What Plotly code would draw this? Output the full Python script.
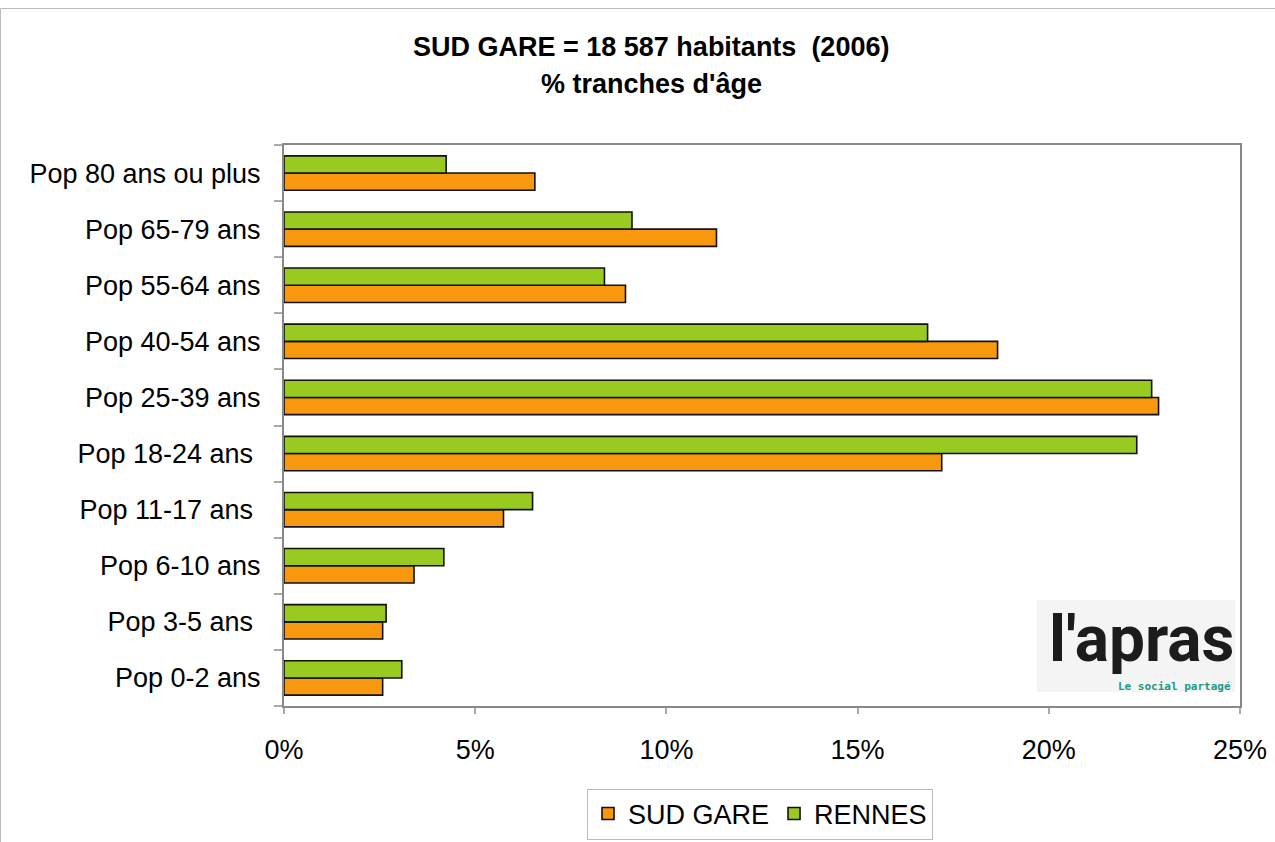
import plotly.graph_objects as go

categories = ["Pop 0-2 ans", "Pop 3-5 ans ", "Pop 6-10 ans", "Pop 11-17 ans ", "Pop 18-24 ans ",
              "Pop 25-39 ans", "Pop 40-54 ans", "Pop 55-64 ans", "Pop 65-79 ans", "Pop 80 ans ou plus"]
sud_gare = [2.58, 2.58, 3.40, 5.74, 17.20, 22.87, 18.66, 8.93, 11.31, 6.56]
rennes = [3.08, 2.67, 4.18, 6.50, 22.30, 22.69, 16.83, 8.38, 9.10, 4.24]
x_ticks = [0, 5, 10, 15, 20, 25]
x_tick_labels = ["0%", "5%", "10%", "15%", "20%", "25%"]

ORANGE = "#F7980E"
GREEN = "#99CA1F"
FONT = "Liberation Sans, Arial, sans-serif"
FS = 27

fig = go.Figure()
fig.add_trace(go.Bar(y=categories, x=sud_gare, orientation="h", name="SUD GARE",
                     marker=dict(color=ORANGE, line=dict(color="#111111", width=1.6))))
fig.add_trace(go.Bar(y=categories, x=rennes, orientation="h", name="RENNES",
                     marker=dict(color=GREEN, line=dict(color="#111111", width=1.6))))

L, R, T, B = 284, 35, 145, 136
W, H = 1275, 842
pw, ph = W - L - R, H - T - B


def px(x):
    return (x - L) / pw


def py(y):
    return (H - B - y) / ph


fig.update_layout(
    width=W, height=H,
    margin=dict(l=L, r=R, t=T, b=B, pad=0, autoexpand=False),
    paper_bgcolor="white", plot_bgcolor="white",
    barmode="group", bargap=0.386, bargroupgap=0,
    font=dict(family=FONT, size=FS, color="black"),
    showlegend=True,
    legend=dict(orientation="h", x=px(760), y=py(814), xanchor="center", yanchor="middle",
                bordercolor="#bbbbbb", borderwidth=1, font=dict(size=FS, family=FONT),
                traceorder="normal", itemwidth=30, bgcolor="white"),
    xaxis=dict(range=[0, 25], tickvals=x_ticks, ticktext=x_tick_labels, showgrid=False,
               zeroline=False, showline=True, linecolor="#888888", linewidth=2, mirror=True,
               ticks="outside", ticklen=6, tickcolor="#aaaaaa", tickwidth=1.5, automargin=False,
               ticklabelstandoff=13, tickfont=dict(size=FS, family=FONT)),
    yaxis=dict(type="category", categoryorder="array", categoryarray=categories,
               showgrid=False, zeroline=False, showline=True, linecolor="#888888", linewidth=2,
               mirror=True, ticks="outside", ticklen=8, tickcolor="#aaaaaa", tickwidth=1.5,
               automargin=False, tickson="boundaries", ticklabelstandoff=16,
               tickfont=dict(size=FS, family=FONT)),
    shapes=[
        dict(type="rect", xref="paper", yref="paper", x0=px(0.5), x1=px(1290), y0=py(8.5), y1=py(860),
             line=dict(color="#bbbbbb", width=1), fillcolor="rgba(0,0,0,0)", layer="below"),
        dict(type="rect", xref="paper", yref="paper", x0=px(1037), x1=px(1235), y0=py(600), y1=py(692),
             line=dict(width=0), fillcolor="#f4f4f4", layer="below"),
    ],
    annotations=[
        dict(text="<b>SUD GARE = 18 587 habitants  (2006)</b>", xref="paper", yref="paper",
             x=px(651), y=py(47), xanchor="center", yanchor="middle", showarrow=False,
             font=dict(size=FS, family=FONT, color="black")),
        dict(text="<b>% tranches d'âge</b>", xref="paper", yref="paper",
             x=px(651), y=py(84), xanchor="center", yanchor="middle", showarrow=False,
             font=dict(size=FS, family=FONT, color="black")),
        dict(text="<b>l'apras</b>", xref="paper", yref="paper",
             x=px(1236), y=py(639), xanchor="right", yanchor="middle", showarrow=False,
             font=dict(size=64, family="Roboto", color="#1c1c1c")),
        dict(text="<b>Le social partagé</b>", xref="paper", yref="paper",
             x=px(1233), y=py(686), xanchor="right", yanchor="middle", showarrow=False,
             font=dict(size=11, family="DejaVu Sans Mono", color="#1a9a88")),
    ],
)

fig.write_html("out.html", config={"displayModeBar": False},
               post_script="document.body.style.margin='0px';")
